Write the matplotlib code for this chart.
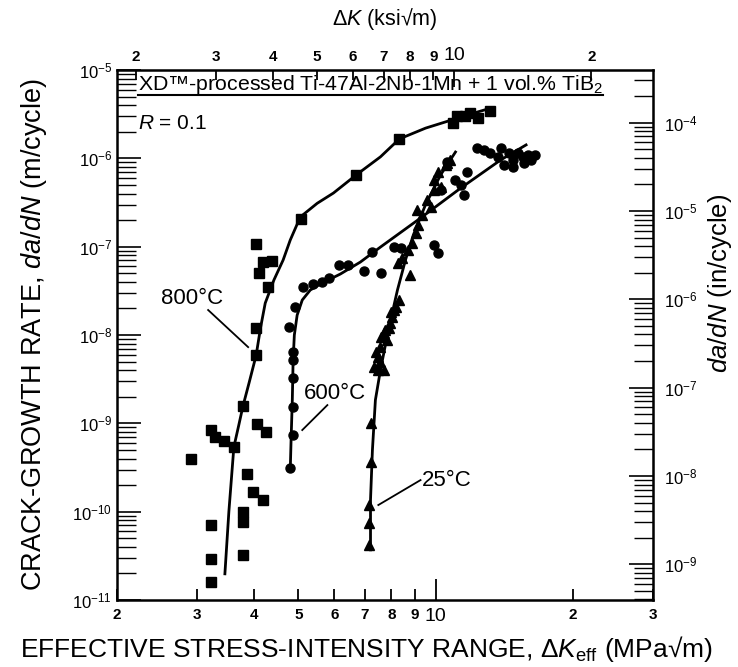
import math

import matplotlib
matplotlib.use("Agg")
import matplotlib.pyplot as plt

plt.rcParams["font.family"] = ["Liberation Sans", "DejaVu Sans"]
plt.rcParams["mathtext.fontset"] = "custom"
plt.rcParams["mathtext.rm"] = "Liberation Sans"
plt.rcParams["mathtext.it"] = "Liberation Sans:italic"
plt.rcParams["mathtext.bf"] = "Liberation Sans:bold"

KSI_TO_MPA = 1.0988
M_TO_IN = 39.37

# 800 C data (squares)
k800 = [3.22, 3.22, 3.78, 3.22, 3.78, 3.78, 4.19, 3.98, 3.86, 2.91, 3.22, 3.28,
        3.44, 3.61, 4.06, 4.25, 3.78, 4.04, 4.04, 4.29, 4.10, 4.19, 4.38, 4.04,
        5.07, 6.70, 8.33, 10.9, 11.17, 11.6, 12.4, 11.9, 13.2]
r800 = [1.6e-11, 2.9e-11, 3.2e-11, 7.1e-11, 7.6e-11, 1.0e-10, 1.36e-10, 1.67e-10,
        2.67e-10, 3.9e-10, 8.4e-10, 7.0e-10, 6.3e-10, 5.4e-10, 9.8e-10, 8.0e-10,
        1.57e-9, 5.9e-9, 1.2e-8, 3.5e-8, 5.0e-8, 6.7e-8, 6.9e-8, 1.07e-7,
        2.06e-7, 6.5e-7, 1.66e-6, 2.5e-6, 3.0e-6, 3.0e-6, 2.86e-6, 3.26e-6, 3.4e-6]

# 600 C data (circles)
k600 = [4.80, 4.87, 4.87, 4.87, 4.87, 4.87, 4.78, 4.92, 5.13, 5.39, 5.64, 5.84,
        6.15, 6.44, 6.95, 7.27, 7.61, 8.09, 8.38, 9.90, 10.15, 10.62, 11.35, 11.52,
        10.26, 11.75, 11.06, 12.36, 12.75, 13.2, 13.68, 14.1, 13.9, 14.46, 14.76,
        15.14, 15.53, 15.92, 14.76, 15.6, 16.5, 16.2]
r600 = [3.1e-10, 7.4e-10, 1.53e-9, 3.26e-9, 5.2e-9, 6.4e-9, 1.23e-8, 2.07e-8,
        3.5e-8, 3.78e-8, 4.0e-8, 4.4e-8, 6.2e-8, 6.2e-8, 5.3e-8, 8.7e-8, 5.0e-8,
        9.9e-8, 9.66e-8, 1.04e-7, 8.5e-8, 9.1e-7, 5.0e-7, 3.85e-7, 4.4e-7, 7.0e-7,
        5.7e-7, 1.31e-6, 1.25e-6, 1.15e-6, 1.03e-6, 8.4e-7, 1.31e-6, 1.15e-6,
        9.6e-7, 1.15e-6, 1.03e-6, 1.09e-6, 8.0e-7, 8.85e-7, 1.09e-6, 9.6e-7]

# 25 C data (triangles)
k25 = [7.16, 7.16, 7.16, 7.20, 7.23, 7.31, 7.49, 7.69, 7.46, 7.57, 7.84, 7.76,
       7.96, 8.04, 8.09, 8.17, 8.29, 8.81, 8.46, 8.72, 8.90, 9.04, 9.17, 9.12,
       9.36, 9.60, 9.75, 9.90, 9.90, 10.15, 10.26, 10.52, 10.62, 10.78,
       7.40, 7.60, 7.90, 7.70, 8.00, 7.55, 8.30]
r25 = [4.2e-11, 7.4e-11, 1.19e-10, 3.65e-10, 1.0e-9, 4.35e-9, 4.0e-9, 4.0e-9,
       5.6e-9, 7.3e-9, 8.8e-9, 1.14e-8, 1.37e-8, 1.6e-8, 1.92e-8, 2.07e-8,
       6.5e-8, 4.8e-8, 7.4e-8, 9.2e-8, 1.1e-7, 1.43e-7, 1.76e-7, 2.6e-7, 2.28e-7,
       3.37e-7, 2.81e-7, 4.38e-7, 5.7e-7, 7.0e-7, 4.73e-7, 8.4e-7, 8.85e-7, 9.6e-7,
       6.5e-9, 9.5e-9, 1.2e-8, 1.05e-8, 1.8e-8, 5.0e-9, 2.5e-8]

# fitted curves
c800_k = [3.45, 3.52, 3.61, 3.70, 3.78, 3.90, 4.04, 4.13, 4.23, 4.42, 4.63, 4.80,
          5.05, 5.50, 5.97, 6.70, 7.57, 8.33, 9.51, 10.8, 12.0, 13.2]
c800_r = [1.98e-11, 1.0e-10, 5.4e-10, 9.5e-10, 1.57e-9, 2.9e-9, 5.9e-9, 1.2e-8,
          2.3e-8, 4.2e-8, 7.06e-8, 1.19e-7, 2.17e-7, 3.1e-7, 4.05e-7, 6.5e-7,
          1.04e-6, 1.66e-6, 2.2e-6, 2.7e-6, 3.2e-6, 3.7e-6]
c600_k = [4.80, 4.82, 4.85, 4.87, 4.90, 4.97, 5.10, 5.31, 5.64, 6.18, 6.84, 7.57,
          9.27, 11.35, 13.9, 15.8]
c600_r = [2.96e-10, 6.5e-10, 1.84e-9, 5.2e-9, 1.0e-8, 1.68e-8, 2.49e-8, 3.23e-8,
          3.88e-8, 4.9e-8, 6.7e-8, 9.9e-8, 2.11e-7, 4.6e-7, 9.6e-7, 1.42e-6]
c25_k = [7.20, 7.20, 7.27, 7.38, 7.57, 7.88, 8.25, 8.59, 8.94, 9.50, 10.26, 11.06]
c25_r = [3.7e-11, 1.36e-10, 5.0e-10, 1.84e-9, 4.0e-9, 1.14e-8, 3.23e-8, 7.06e-8,
         1.36e-7, 2.96e-7, 6.5e-7, 1.18e-6]

bottom_minor = [2, 3, 4, 5, 6, 7, 8, 9, 20, 30]
bottom_minor_labels = ["2", "3", "4", "5", "6", "7", "8", "9", "2", "3"]
top_minor = [2, 3, 4, 5, 6, 7, 8, 9, 20]
top_minor_labels = ["2", "3", "4", "5", "6", "7", "8", "9", "2"]
left_major = [1e-11, 1e-10, 1e-9, 1e-8, 1e-7, 1e-6, 1e-5]
right_major = [1e-9, 1e-8, 1e-7, 1e-6, 1e-5, 1e-4]


def decade_labels(vals):
    return ["$10^{%d}$" % round(math.log10(v)) for v in vals]


fig = plt.figure(figsize=(7.38, 6.67), dpi=100)
ax = fig.add_axes([0.1585, 0.1004, 0.7263, 0.7946])
ax.set_xscale("log")
ax.set_yscale("log")
ax.set_xlim(2, 30)
ax.set_ylim(1e-11, 1e-5)

ms = 6.5
ax.plot(k800, r800, "s", color="black", ms=ms, mec="black")
ax.plot(k600, r600, "o", color="black", ms=ms, mec="black")
ax.plot(k25, r25, "^", color="black", ms=ms + 0.5, mec="black")
ax.plot(c800_k, c800_r, "-", color="black", lw=2)
ax.plot(c600_k, c600_r, "-", color="black", lw=2)
ax.plot(c25_k, c25_r, "-", color="black", lw=2)

# temperature labels with leader lines
lab = dict(fontsize=16, color="black")
ax.text(2.92, 2.6e-8, "800°C", ha="center", va="center", **lab)
ax.plot([3.17, 3.88], [1.92e-8, 7.3e-9], "-", color="black", lw=1.3)
ax.text(6.03, 2.2e-9, "600°C", ha="center", va="center", **lab)
ax.plot([5.79, 5.10], [1.61e-9, 8.4e-10], "-", color="black", lw=1.3)
ax.text(10.6, 2.28e-10, "25°C", ha="center", va="center", **lab)
ax.plot([9.27, 7.49], [2.28e-10, 1.19e-10], "-", color="black", lw=1.3)

# header
ax.text(0.039, 0.973, "XD™-processed Ti-47Al-2Nb-1Mn + 1 vol.% TiB$_2$",
        transform=ax.transAxes, ha="left", va="center", fontsize=15.3)
ax.plot([0.039, 0.907], [0.952, 0.952], transform=ax.transAxes, color="black",
        lw=1.5, clip_on=False)
ax.text(0.039, 0.90, "$\\mathit{R}$ = 0.1", transform=ax.transAxes,
        ha="left", va="center", fontsize=15)

# bottom axis ticks
ax.set_xticks([10], ["10"], fontsize=14)
ax.set_xticks(bottom_minor, bottom_minor_labels, minor=True,
              fontsize=11, fontweight="bold")
ax.tick_params(axis="x", which="major", direction="in", length=15, width=1.3, pad=6)
ax.tick_params(axis="x", which="minor", direction="in", length=8, width=1.3, pad=6)

# left axis ticks
ax.set_yticks(left_major, decade_labels(left_major), fontsize=12)
ax.tick_params(axis="y", which="major", direction="in", length=17, width=1.2)
ax.tick_params(axis="y", which="minor", direction="in", length=14, width=1.0)
for s in ax.spines.values():
    s.set_linewidth(1.8)

# top axis: ksi
top = ax.secondary_xaxis("top", functions=(lambda x: x / KSI_TO_MPA,
                                            lambda x: x * KSI_TO_MPA))
top.set_xticks([10], ["10"], fontsize=14)
top.set_xticks(top_minor, top_minor_labels, minor=True,
               fontsize=11, fontweight="bold")
top.tick_params(axis="x", which="major", direction="in", length=12, width=1.3, pad=4)
top.tick_params(axis="x", which="minor", direction="in", length=7, width=1.3, pad=4)
top.set_xlabel("Δ$\\mathit{K}$ (ksi√m)", fontsize=15.5, labelpad=16)

# right axis: in/cycle
right = ax.secondary_yaxis("right", functions=(lambda y: y * M_TO_IN,
                                                lambda y: y / M_TO_IN))
right.set_yticks(right_major, decade_labels(right_major), fontsize=12)
right.tick_params(axis="y", which="major", direction="in", length=17, width=1.2, pad=8)
right.tick_params(axis="y", which="minor", direction="in", length=14, width=1.0)
right.set_ylabel("$\\mathit{da/dN}$ (in/cycle)", fontsize=18.5)
right.yaxis.set_label_coords(1.098, 0.598, transform=ax.transAxes)

ax.set_xlabel("EFFECTIVE STRESS-INTENSITY RANGE, Δ$\\mathit{K}_{\\mathrm{eff}}$ (MPa√m)",
              fontsize=19)
ax.xaxis.set_label_coords(0.466, -0.065)
ax.set_ylabel("CRACK-GROWTH RATE, $\\mathit{da/dN}$ (m/cycle)", fontsize=19.5)
ax.yaxis.set_label_coords(-0.127, 0.5)

fig.savefig("out.png", dpi=100)
